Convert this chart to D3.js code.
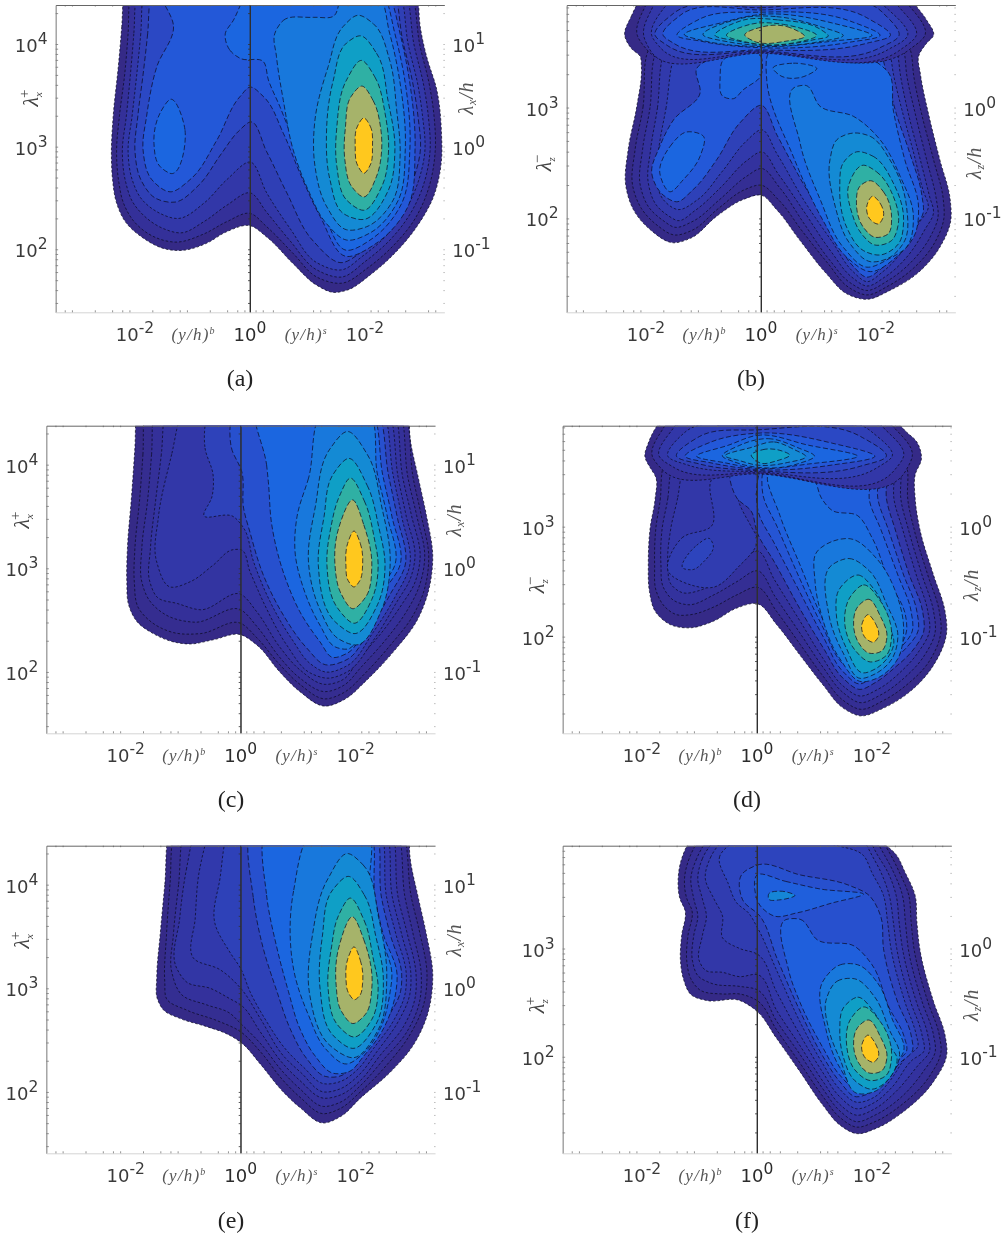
<!DOCTYPE html>
<html><head><meta charset="utf-8">
<script src="https://cdn.jsdelivr.net/npm/d3@7"></script>
<style>html,body{margin:0;background:#fff}svg{display:block;filter:blur(.35px)}</style></head>
<body><svg id="c" width="1008" height="1237"></svg>
<script>
// contour levels and their fill colours
const levelValues=[1,2,3,4,5,6,7,8,9,10,11,12,13];
const levelColors=["#352a87","#343099","#3237a8","#2f3fb5","#2b48c4","#2358d8","#1b66e0","#1878dc","#148ad4","#0f9fc6","#2fb0a4","#a6b36a","#ffc81e"];
// tick labels
const xMajor=[-2,0,2], yDecadesX=[2,3,4], yDecadesZ=[2,3];
// contour outlines: [level, [[signed decades of y/h, log10 lambda+],...]]
const panelA=[
[1,[[-2.19,4.49],[-2.23,4.17],[-2.29,3.78],[-2.38,3.29],[-2.41,2.9],[-2.39,2.68],[-2.32,2.45],[-2.17,2.27],[-1.86,2.11],[-1.45,2],[-1.16,1.99],[-.75,2.06],[-.41,2.17],[0,2.23],[.29,2.12],[.75,1.86],[1.16,1.65],[1.45,1.58],[1.68,1.6],[2.09,1.75],[2.55,1.98],[2.9,2.22],[3.19,2.51],[3.33,2.87],[3.33,3.13],[3.25,3.55],[3.07,3.88],[2.96,4.17],[2.91,4.49]]],
[2,[[-2.08,4.49],[-2.12,4.1],[-2.18,3.7],[-2.27,3.3],[-2.32,2.95],[-2.28,2.65],[-2.2,2.45],[-2.03,2.28],[-1.7,2.13],[-1.3,2.07],[-.8,2.15],[-.4,2.27],[0,2.35],[.29,2.22],[.75,1.96],[1.16,1.73],[1.6,1.67],[2.05,1.82],[2.5,2.04],[2.85,2.28],[3.08,2.55],[3.22,2.95],[3.2,3.3],[3.12,3.6],[2.95,4],[2.82,4.49]]],
[3,[[-1.97,4.49],[-2.02,4.1],[-2.08,3.7],[-2.15,3.3],[-2.22,2.95],[-2.16,2.65],[-2.05,2.47],[-1.85,2.33],[-1.5,2.2],[-1.2,2.16],[-.8,2.27],[-.4,2.43],[0,2.55],[.29,2.36],[.7,2.08],[1.16,1.8],[1.6,1.73],[2,1.88],[2.45,2.1],[2.78,2.34],[3,2.6],[3.13,2.95],[3.1,3.3],[3.02,3.6],[2.85,4],[2.72,4.49]]],
[4,[[-1.85,4.49],[-1.9,4.1],[-1.97,3.7],[-2.05,3.3],[-2.12,2.95],[-2.05,2.68],[-1.9,2.5],[-1.6,2.36],[-1.25,2.3],[-.8,2.45],[-.4,2.68],[0,2.85],[.29,2.55],[.7,2.2],[1.16,1.87],[1.6,1.8],[1.95,1.93],[2.4,2.15],[2.7,2.38],[2.92,2.65],[3.04,2.95],[3,3.3],[2.92,3.6],[2.75,4],[2.62,4.49]]],
[5,[[-1.72,4.49],[-1.78,4.1],[-1.86,3.7],[-1.95,3.3],[-2,2.95],[-1.9,2.68],[-1.65,2.5],[-1.3,2.46],[-.9,2.62],[-.5,2.93],[-.2,3.15],[0,3.24],[.29,2.95],[.64,2.55],[1.1,2.08],[1.6,1.87],[1.95,1.98],[2.35,2.22],[2.62,2.45],[2.85,2.7],[2.96,2.95],[2.92,3.3],[2.82,3.65],[2.65,4.05],[2.52,4.49]]],
[6,[[-1.57,4.49],[-1.33,4.17],[-1.62,3.78],[-1.8,3.29],[-1.86,2.97],[-1.71,2.68],[-1.39,2.56],[-1.04,2.68],[-.58,3.06],[-.17,3.49],[0,3.58],[.23,3.49],[.58,3.13],[.87,2.74],[1.22,2.32],[1.68,1.93],[2.2,2.06],[2.75,2.42],[2.87,2.97],[2.78,3.62],[2.61,4.1],[2.42,4.49]]],
[7,[[-1.39,3.46],[-1.13,3.16],[-1.39,2.74],[-1.57,2.81],[-1.67,3.03],[-1.57,3.32]]],
[7,[[-.43,4.1],[-.35,3.94],[-.17,3.86],[.23,3.83],[.32,3.65],[.52,3.39],[.75,3.06],[.99,2.71],[1.28,2.35],[1.68,1.99],[2.14,2.11],[2.64,2.45],[2.78,2.97],[2.7,3.62],[2.52,4.1],[2.32,4.49],[-.06,4.49],[-.29,4.23]]],
[8,[[.43,4.1],[.58,4.23],[1.1,4.26],[1.45,4.27],[1.62,4.49],[2.2,4.49],[2.43,4.1],[2.61,3.62],[2.7,2.97],[2.58,2.48],[2.09,2.16],[1.68,2.09],[1.33,2.25],[1.01,2.58],[.75,2.97],[.58,3.45],[.46,3.88]]],
[9,[[1.88,4.28],[2.14,4.2],[2.43,3.84],[2.55,3.36],[2.61,2.9],[2.49,2.48],[2.03,2.22],[1.68,2.19],[1.33,2.42],[1.13,2.81],[1.13,3.26],[1.36,3.78],[1.62,4.17]]],
[10,[[1.91,4.08],[2.2,3.91],[2.4,3.45],[2.52,2.97],[2.41,2.58],[1.97,2.29],[1.62,2.35],[1.39,2.68],[1.33,3.13],[1.45,3.65],[1.68,4.01]]],
[11,[[1.94,3.84],[2.17,3.68],[2.35,3.32],[2.41,2.97],[2.29,2.61],[1.97,2.38],[1.68,2.48],[1.51,2.81],[1.51,3.19],[1.68,3.65]]],
[12,[[1.94,3.59],[2.14,3.45],[2.27,3.19],[2.29,2.97],[2.2,2.71],[1.97,2.51],[1.77,2.61],[1.65,2.87],[1.66,3.19],[1.76,3.49]]],
[13,[[1.98,3.28],[2.09,3.2],[2.13,3],[2.09,2.82],[1.98,2.74],[1.87,2.82],[1.83,3],[1.87,3.2]]]];
const panelB=[
[1,[[-2.08,4],[-2.25,3.83],[-2.37,3.65],[-2.25,3.53],[-2.1,3.46],[-2.08,3.37],[-2.16,3.01],[-2.31,2.62],[-2.35,2.29],[-2.22,2.08],[-1.93,1.9],[-1.52,1.78],[-1.23,1.82],[-.77,2.02],[-.31,2.17],[0,2.21],[.27,2.08],[.68,1.8],[1.14,1.5],[1.49,1.32],[1.84,1.27],[2.24,1.35],[2.71,1.5],[3.11,1.74],[3.3,1.98],[3.29,2.17],[3.11,2.53],[2.91,2.95],[2.77,3.31],[2.74,3.46],[2.88,3.58],[3,3.65],[2.88,3.79],[2.71,3.91],[2.59,4]]],
[1.7,[[-1.99,3.47],[-2.05,3.01],[-2.19,2.62],[-2.23,2.29],[-2.08,2.09],[-1.81,1.94],[-1.5,1.85],[-1.21,1.89],[-.74,2.09],[-.28,2.26],[0,2.3],[.3,2.17],[.71,1.89],[1.17,1.59],[1.52,1.38],[1.84,1.31],[2.21,1.39],[2.65,1.55],[3.03,1.79],[3.18,2],[3.17,2.17],[3,2.53],[2.79,2.95],[2.65,3.31],[2.62,3.47]]],
[2.3,[[-1.85,3.47],[-1.93,3],[-2.06,2.62],[-2.1,2.3],[-1.95,2.1],[-1.7,1.98],[-1.5,1.92],[-1.2,1.97],[-.72,2.17],[-.25,2.38],[0,2.45],[.32,2.28],[.74,1.96],[1.2,1.62],[1.55,1.42],[1.84,1.35],[2.18,1.43],[2.6,1.6],[2.95,1.84],[3.08,2.02],[3.05,2.17],[2.88,2.53],[2.68,2.95],[2.53,3.31],[2.5,3.47]]],
[3.2,[[-1.7,3.47],[-1.8,3],[-1.92,2.62],[-1.96,2.32],[-1.82,2.12],[-1.6,2.02],[-1.45,1.98],[-1.15,2.07],[-.7,2.28],[-.25,2.52],[0,2.6],[.3,2.4],[.75,2.06],[1.22,1.7],[1.58,1.47],[1.84,1.39],[2.15,1.47],[2.55,1.66],[2.85,1.9],[3,2.05],[2.93,2.2],[2.76,2.55],[2.56,2.95],[2.42,3.31],[2.38,3.47]]],
[4.2,[[-1.5,3.47],[-1.65,3],[-1.78,2.62],[-1.82,2.35],[-1.7,2.17],[-1.45,2.08],[-1.1,2.17],[-.68,2.42],[-.25,2.7],[0,2.8],[.28,2.58],[.75,2.16],[1.25,1.78],[1.6,1.52],[1.84,1.43],[2.12,1.52],[2.48,1.72],[2.75,1.96],[2.91,2.1],[2.82,2.25],[2.65,2.6],[2.45,2.98],[2.3,3.31],[2.25,3.47]]],
[6,[[-1.12,3.35],[-.7,3.47],[2.1,3.47],[2.2,3.25],[2.35,2.95],[2.58,2.6],[2.8,2.2],[2.82,2.05],[2.65,1.9],[2.42,1.72],[2.1,1.55],[1.84,1.47],[1.6,1.57],[1.25,1.88],[.75,2.3],[.28,2.75],[0,3.02],[-.37,2.86],[-.77,2.53],[-1.18,2.26],[-1.47,2.15],[-1.7,2.21],[-1.9,2.41],[-1.76,2.65],[-1.52,2.89],[-1.06,3.13]]],
[7,[[-1.76,2.41],[-1.58,2.65],[-1.29,2.78],[-1,2.74],[-1.06,2.56],[-1.35,2.35],[-1.58,2.24]]],
[7,[[-.68,3.41],[0,3.46],[0,3.29],[-.31,3.16],[-.48,3.08],[-.66,3.1],[-.71,3.28]]],
[7,[[.1,3.45],[2.01,3.41],[2.21,3.32],[2.3,2.98],[2.5,2.53],[2.74,2.1],[2.68,1.86],[2.35,1.65],[1.9,1.52],[1.49,1.65],[1.08,1.98],[.56,2.56],[.1,3.25]]],
[7.6,[[.21,3.35],[.56,3.4],[.97,3.35],[.68,3.27],[.33,3.29]]],
[8,[[.62,3.19],[.77,3.2],[1.03,3.01],[1.61,2.92],[2.07,2.71],[2.42,2.38],[2.65,2.02],[2.53,1.74],[2.24,1.64],[1.84,1.56],[1.43,1.74],[1.03,2.17],[.68,2.68]]],
[9,[[1.61,2.77],[1.9,2.74],[2.24,2.53],[2.53,2.11],[2.5,1.8],[2.21,1.64],[1.9,1.61],[1.55,1.77],[1.29,2.11],[1.2,2.53],[1.32,2.71]]],
[10,[[1.66,2.6],[1.95,2.56],[2.3,2.32],[2.48,1.98],[2.39,1.77],[2.07,1.67],[1.78,1.71],[1.49,1.92],[1.37,2.29],[1.43,2.5]]],
[11,[[1.78,2.48],[2.01,2.42],[2.3,2.2],[2.39,1.96],[2.27,1.8],[1.98,1.76],[1.75,1.86],[1.58,2.05],[1.52,2.29]]],
[12,[[1.9,2.34],[2.13,2.24],[2.27,2.02],[2.21,1.86],[1.98,1.83],[1.78,1.92],[1.66,2.14],[1.72,2.29]]],
[13,[[1.94,2.2],[2.08,2.13],[2.13,2.02],[2.04,1.95],[1.9,1.99],[1.84,2.11]]],
[2,[[-1.98,3.95],[2.53,3.95],[2.85,3.65],[2.6,3.53],[0,3.5],[-1.98,3.52],[-2.15,3.65]]],
[3,[[-1.87,3.92],[2.38,3.92],[2.7,3.65],[2.42,3.52],[0,3.49],[-1.93,3.52],[-2.04,3.65]]],
[4,[[-1.7,3.89],[0,3.93],[2.2,3.89],[2.55,3.65],[2.2,3.52],[0,3.5],[-1.75,3.54],[-1.9,3.65]]],
[5,[[-1.52,3.85],[0,3.9],[2.13,3.85],[2.4,3.65],[2.07,3.54],[0,3.51],[-1.63,3.56],[-1.84,3.65]]],
[6,[[-1.41,3.83],[0,3.88],[1.84,3.81],[2.25,3.65],[1.84,3.58],[0,3.52],[-1.52,3.58],[-1.7,3.65]]],
[7,[[-1.06,3.8],[0,3.86],[1.55,3.78],[2.07,3.65],[1.55,3.59],[0,3.54],[-1.06,3.6],[-1.46,3.65]]],
[8,[[-.65,3.77],[0,3.84],[1.26,3.76],[1.93,3.65],[1.26,3.6],[0,3.55],[-1.06,3.61],[-1.32,3.65]]],
[9,[[-.19,3.82],[.27,3.82],[1.03,3.73],[1.43,3.65],[.97,3.59],[0,3.56],[-.54,3.59],[-1,3.65]]],
[10,[[-.3,3.79],[.3,3.79],[1.05,3.7],[1.17,3.65],[.9,3.61],[0,3.57],[-.4,3.6],[-.8,3.65]]],
[11,[[-.19,3.75],[.39,3.75],[.97,3.65],[.39,3.57],[-.25,3.59],[-.6,3.65]]],
[12,[[.04,3.73],[.45,3.73],[.76,3.64],[.45,3.6],[-.13,3.6],[-.28,3.65]]]];
const panelC=[
[1,[[-1.8,4.54],[-1.84,4.16],[-1.9,3.68],[-1.97,3.19],[-1.98,2.87],[-1.95,2.65],[-1.81,2.49],[-1.52,2.37],[-1.17,2.29],[-.88,2.27],[-.48,2.31],[0,2.36],[.28,2.26],[.68,2],[1.03,1.81],[1.47,1.67],[1.79,1.73],[2.19,1.92],[2.71,2.23],[3.06,2.49],[3.26,2.77],[3.34,3.1],[3.23,3.51],[3.09,3.87],[2.94,4.29],[2.93,4.54]]],
[1.5,[[-1.66,4.54],[-1.7,4.1],[-1.76,3.65],[-1.84,3.19],[-1.85,2.87],[-1.78,2.62],[-1.55,2.48],[-1.17,2.38],[-.7,2.37],[0,2.47],[.28,2.33],[.68,2.07],[1.03,1.88],[1.47,1.74],[1.79,1.8],[2.15,1.98],[2.62,2.27],[2.97,2.52],[3.18,2.77],[3.27,3.1],[3.14,3.51],[3,3.87],[2.85,4.54]]],
[2,[[-1.5,4.54],[-1.55,4.1],[-1.62,3.65],[-1.72,3.19],[-1.72,2.87],[-1.6,2.7],[-1.3,2.55],[-.8,2.48],[0,2.6],[.28,2.44],[.68,2.14],[1.03,1.94],[1.47,1.81],[1.79,1.87],[2.1,2.05],[2.55,2.33],[2.88,2.58],[3.1,2.82],[3.2,3.1],[3.06,3.51],[2.91,3.87],[2.76,4.54]]],
[2.5,[[-1.3,4.54],[-1.38,4.1],[-1.48,3.65],[-1.57,3.19],[-1.58,2.87],[-1.45,2.72],[-1.1,2.66],[-.7,2.6],[0,2.75],[.28,2.58],[.68,2.24],[1.03,2.02],[1.47,1.88],[1.79,1.93],[2.05,2.12],[2.48,2.4],[2.8,2.65],[3.02,2.85],[3.12,3.1],[2.97,3.51],[2.82,3.87],[2.66,4.54]]],
[3,[[-1,4.54],[-1.2,4.1],[-1.43,3.5],[-1.46,3.06],[-1.23,2.82],[-.88,2.87],[-.48,3.03],[-.13,3.18],[0,3.18],[.16,2.97],[.45,2.61],[.8,2.26],[1.21,1.99],[1.52,1.94],[1.85,2],[2.3,2.3],[2.72,2.68],[2.95,2.9],[3.03,3.1],[2.88,3.5],[2.74,3.87],[2.56,4.54]]],
[4.3,[[-.56,4.54],[-.62,4.16],[-.48,3.9],[-.5,3.69],[-.64,3.51],[-.13,3.5],[.05,3.39],[.22,3.07],[.51,2.68],[.91,2.3],[1.21,2.08],[1.47,2],[1.85,2.06],[2.3,2.38],[2.68,2.72],[2.94,3.03],[2.8,3.5],[2.65,3.9],[2.46,4.54]]],
[5.5,[[-.13,4.54],[-.16,4.16],[.02,3.93],[.05,3.58],[.16,3.35],[.39,2.94],[.74,2.55],[1.15,2.23],[1.47,2.07],[1.85,2.12],[2.25,2.42],[2.6,2.75],[2.86,3.03],[2.72,3.5],[2.57,3.9],[2.36,4.54]]],
[7,[[.25,4.54],[.45,4],[.48,3.84],[.54,3.42],[.8,2.87],[1.03,2.58],[1.38,2.29],[1.6,2.14],[1.85,2.18],[2.2,2.46],[2.52,2.8],[2.77,3.03],[2.63,3.5],[2.47,3.9],[2.26,4.54]]],
[8,[[1.5,4.54],[1.18,3.87],[.98,3.5],[.95,3.13],[1.09,2.81],[1.38,2.45],[1.65,2.24],[1.85,2.22],[2.15,2.5],[2.45,2.82],[2.68,3.03],[2.55,3.5],[2.38,3.9],[2.16,4.54]]],
[9,[[1.85,4.32],[2.2,4.1],[2.45,3.6],[2.6,3.05],[2.45,2.6],[2,2.26],[1.7,2.32],[1.38,2.6],[1.18,3.05],[1.3,3.6],[1.55,4.15]]],
[10,[[1.87,4.06],[2.2,3.8],[2.4,3.4],[2.51,3.03],[2.38,2.65],[1.97,2.37],[1.65,2.48],[1.35,3.03],[1.45,3.5],[1.6,3.9]]],
[11,[[1.9,3.87],[2.15,3.65],[2.32,3.3],[2.39,3.03],[2.28,2.7],[1.97,2.47],[1.68,2.62],[1.5,3.03],[1.57,3.4],[1.72,3.7]]],
[12,[[1.95,3.66],[2.14,3.42],[2.28,3.03],[2.17,2.72],[1.95,2.61],[1.75,2.75],[1.64,3.03],[1.7,3.38]]],
[13,[[1.97,3.36],[2.08,3.24],[2.12,3.03],[2.07,2.88],[1.97,2.82],[1.87,2.88],[1.83,3.03],[1.86,3.24]]]];
const panelD=[
[1,[[-1.6,4],[-1.69,3.95],[-1.89,3.76],[-1.95,3.64],[-1.85,3.53],[-1.76,3.45],[-1.77,3.26],[-1.86,2.98],[-1.89,2.65],[-1.87,2.41],[-1.77,2.23],[-1.51,2.11],[-1.17,2.08],[-.76,2.14],[-.35,2.26],[0,2.3],[.34,2.11],[.75,1.83],[1.15,1.56],[1.5,1.35],[1.79,1.28],[2.2,1.35],[2.66,1.5],[3.07,1.74],[3.3,2.05],[3.27,2.23],[3.07,2.56],[2.83,2.98],[2.75,3.26],[2.75,3.47],[2.86,3.62],[2.78,3.77],[2.6,3.86],[2.43,3.95],[2.3,4]]],
[1.7,[[-1.65,3.5],[-1.68,3.26],[-1.76,2.98],[-1.78,2.65],[-1.75,2.41],[-1.6,2.27],[-1.4,2.2],[-1.15,2.2],[-.75,2.27],[-.35,2.38],[0,2.45],[.34,2.23],[.75,1.93],[1.15,1.64],[1.5,1.42],[1.79,1.34],[2.2,1.42],[2.6,1.56],[3,1.78],[3.2,2.05],[3.17,2.23],[2.97,2.56],[2.73,2.98],[2.62,3.26],[2.62,3.5]]],
[2.3,[[-1.5,3.5],[-1.55,3.26],[-1.65,2.98],[-1.67,2.65],[-1.63,2.45],[-1.45,2.33],[-1.2,2.29],[-.75,2.38],[-.35,2.5],[0,2.6],[.32,2.36],[.75,2.03],[1.15,1.72],[1.5,1.49],[1.79,1.4],[2.15,1.47],[2.55,1.62],[2.9,1.82],[3.1,2.05],[3.07,2.23],[2.87,2.56],[2.63,2.98],[2.5,3.26],[2.5,3.5]]],
[3,[[-1.3,3.5],[-1.38,3.26],[-1.5,2.98],[-1.55,2.65],[-1.5,2.48],[-1.3,2.4],[-1,2.42],[-.7,2.5],[-.35,2.66],[0,2.78],[.3,2.52],[.75,2.14],[1.15,1.8],[1.5,1.55],[1.79,1.46],[2.1,1.52],[2.5,1.68],[2.82,1.87],[3,2.05],[2.97,2.23],[2.77,2.56],[2.53,2.98],[2.38,3.26],[2.38,3.5]]],
[3.6,[[-1.54,2.59],[-1.3,2.9],[-.8,3],[-.75,3.45],[-.45,3.5],[-.3,3.2],[-.1,3],[0,2.9],[-.35,2.62],[-.75,2.45],[-1.15,2.47]]],
[4.5,[[-1.28,2.62],[-1.05,2.83],[-.82,2.89],[-.76,2.83],[-.93,2.68],[-1.11,2.61]]],
[5,[[-.45,3.5],[0,3.5],[2.25,3.5],[2.25,3.26],[2.4,2.98],[2.65,2.56],[2.88,2.23],[2.9,2.05],[2.7,1.87],[2.4,1.72],[2.05,1.58],[1.79,1.52],[1.5,1.62],[1.15,1.9],[.75,2.25],[.3,2.68],[0,2.95],[-.1,3.14],[-.35,3.26]]],
[5.8,[[.05,3.5],[2.1,3.5],[2.1,3.26],[2.28,2.98],[2.55,2.56],[2.78,2.23],[2.8,2.05],[2.6,1.9],[2.3,1.76],[2,1.63],[1.79,1.57],[1.5,1.68],[1.15,2],[.75,2.4],[.3,2.85],[.02,3.14]]],
[6.5,[[.1,3.5],[2,3.5],[1.95,3.26],[2.15,2.98],[2.45,2.56],[2.68,2.23],[2.7,2.05],[2.5,1.9],[2.2,1.76],[1.9,1.63],[1.5,1.75],[1.15,2.08],[.75,2.52],[.35,3],[.1,3.3]]],
[7.3,[[.2,3.48],[1,3.42],[1.12,3.26],[1.3,3.15],[1.75,3.1],[2,2.9],[2.3,2.5],[2.58,2.2],[2.6,2.05],[2.4,1.85],[2.05,1.7],[1.8,1.65],[1.5,1.8],[1.15,2.15],[.75,2.65],[.4,3.1]]],
[8,[[1.04,2.77],[1.33,2.87],[1.62,2.89],[2.08,2.71],[2.43,2.38],[2.55,2.05],[2.45,1.8],[2.08,1.62],[1.82,1.59],[1.44,1.8],[1.12,2.2],[1.01,2.5]]],
[9,[[1.3,2.65],[1.6,2.71],[1.95,2.6],[2.25,2.3],[2.45,2],[2.35,1.8],[2.05,1.66],[1.8,1.62],[1.5,1.85],[1.25,2.2]]],
[10,[[1.42,2.42],[1.76,2.56],[2.05,2.42],[2.3,2.1],[2.38,1.95],[2.1,1.72],[1.85,1.67],[1.55,1.9],[1.38,2.2]]],
[11,[[1.62,2.36],[1.85,2.47],[2.15,2.32],[2.34,2],[2.25,1.83],[1.97,1.77],[1.7,1.88],[1.53,2.1]]],
[12,[[1.75,2.27],[1.93,2.34],[2.15,2.18],[2.26,2],[2.17,1.87],[1.95,1.85],[1.76,1.95],[1.68,2.1]]],
[13,[[1.93,2.2],[2.06,2.12],[2.11,2],[2.03,1.95],[1.9,1.98],[1.82,2.1]]],
[2,[[-1.6,3.92],[2.35,3.92],[2.7,3.64],[2.6,3.52],[0,3.48],[-1.65,3.52],[-1.82,3.64]]],
[3,[[-1.45,3.9],[2.2,3.9],[2.55,3.64],[2.4,3.52],[0,3.49],[-1.45,3.54],[-1.7,3.64]]],
[4,[[-1.25,3.86],[0,3.92],[2,3.86],[2.35,3.64],[2.1,3.54],[0,3.5],[-1.2,3.56],[-1.55,3.64]]],
[5,[[-1,3.82],[0,3.88],[1.8,3.82],[2.25,3.64],[1.8,3.55],[0,3.51],[-1,3.57],[-1.4,3.64]]],
[6,[[-.8,3.77],[0,3.85],[1.3,3.76],[2.05,3.64],[1.3,3.56],[0,3.52],[-.8,3.58],[-1.25,3.64]]],
[7,[[-.5,3.74],[0,3.83],[.9,3.74],[1.75,3.64],[.9,3.57],[0,3.53],[-.55,3.58],[-1.05,3.64]]],
[8,[[-.3,3.74],[.2,3.8],[.7,3.72],[1,3.64],[.7,3.57],[0,3.54],[-.4,3.59],[-.6,3.64]]],
[9,[[-.1,3.72],[.3,3.77],[.65,3.7],[.85,3.64],[.5,3.58],[0,3.56],[-.3,3.6],[-.55,3.64]]],
[10,[[-.1,3.65],[.1,3.7],[.35,3.7],[.57,3.65],[.35,3.6],[.05,3.58]]]];
const panelE=[
[1,[[-1.23,4.55],[-1.32,4],[-1.4,3.52],[-1.46,3.1],[-1.45,2.9],[-1.34,2.79],[-1.06,2.71],[-.59,2.63],[-.24,2.56],[0,2.48],[.34,2.27],[.74,2],[1.03,1.85],[1.44,1.7],[1.73,1.76],[2.08,1.94],[2.6,2.19],[3,2.45],[3.26,2.77],[3.34,3.13],[3.23,3.52],[3.09,3.87],[2.94,4.29],[2.93,4.55]]],
[1.6,[[-1.14,4.55],[-1.23,4],[-1.29,3.52],[-1.32,3.06],[-1.29,2.9],[-.94,2.79],[-.42,2.69],[0,2.58],[.34,2.39],[.74,2.11],[1.03,1.95],[1.44,1.79],[1.73,1.84],[2.08,2],[2.54,2.26],[2.94,2.55],[3.18,2.84],[3.24,3.13],[3.12,3.52],[2.97,3.87],[2.8,4.55]]],
[2.2,[[-.97,4.55],[-1.08,4],[-1.17,3.52],[-1.2,3.16],[-1.03,2.94],[-.59,2.84],[-.19,2.76],[0,2.66],[.34,2.47],[.74,2.19],[1.03,2.03],[1.44,1.86],[1.73,1.9],[2.08,2.06],[2.48,2.31],[2.89,2.58],[3.11,2.87],[3.14,3.13],[3,3.52],[2.86,3.87],[2.71,4.55]]],
[2.8,[[-.77,4.55],[-.94,4.16],[-1.06,3.68],[-1.11,3.19],[-.94,3.06],[-.53,3],[-.19,2.9],[0,2.84],[.34,2.58],[.74,2.27],[1.03,2.11],[1.44,1.94],[1.73,1.97],[2.08,2.11],[2.42,2.35],[2.83,2.63],[3.03,2.9],[3.05,3.13],[2.9,3.52],[2.74,3.87],[2.61,4.55]]],
[3.3,[[-.5,4.55],[-.71,4.16],[-.79,3.68],[-.82,3.29],[-.36,3.18],[0,3],[.34,2.71],[.74,2.35],[1.06,2.18],[1.44,2],[1.73,2.03],[2.05,2.16],[2.37,2.39],[2.74,2.68],[2.94,2.94],[2.96,3.13],[2.8,3.52],[2.64,3.87],[2.51,4.55]]],
[4.2,[[-.19,4.55],[-.36,4.06],[-.45,3.63],[-.19,3.35],[0,3.19],[.16,2.97],[.45,2.68],[.77,2.42],[1.09,2.24],[1.44,2.08],[1.73,2.1],[2.02,2.21],[2.31,2.42],[2.66,2.69],[2.86,2.95],[2.88,3.13],[2.7,3.52],[2.54,3.87],[2.41,4.55]]],
[5.5,[[.19,4.55],[.22,3.87],[.39,3.39],[.63,2.97],[.86,2.61],[1.15,2.32],[1.47,2.15],[1.76,2.16],[1.96,2.26],[2.22,2.45],[2.57,2.73],[2.78,2.97],[2.8,3.13],[2.6,3.52],[2.45,3.87],[2.32,4.55]]],
[7,[[.45,4.55],[.45,3.9],[.63,3.39],[.83,2.97],[1.03,2.61],[1.29,2.35],[1.61,2.18],[1.9,2.2],[2.13,2.34],[2.42,2.55],[2.7,2.97],[2.72,3.13],[2.48,3.52],[2.34,3.87],[2.22,4.55]]],
[8,[[1.32,4.55],[.92,3.94],[.86,3.52],[.94,3.13],[1.18,2.74],[1.47,2.42],[1.84,2.27],[2.13,2.37],[2.4,2.58],[2.6,2.97],[2.63,3.13],[2.42,3.52],[2.25,3.87],[2.16,4.55]]],
[9,[[1.87,4.3],[2.13,4.19],[2.4,3.68],[2.54,3.1],[2.4,2.61],[1.95,2.33],[1.55,2.45],[1.2,2.94],[1.25,3.52],[1.52,4.06]]],
[10,[[1.87,4.08],[2.15,3.9],[2.35,3.5],[2.48,3.1],[2.35,2.65],[1.95,2.42],[1.6,2.55],[1.38,3],[1.42,3.5],[1.6,3.95]]],
[11,[[1.9,3.87],[2.15,3.65],[2.3,3.3],[2.39,3],[2.28,2.7],[1.97,2.53],[1.68,2.65],[1.52,3],[1.58,3.4],[1.7,3.7]]],
[12,[[1.95,3.69],[2.14,3.47],[2.28,3],[2.17,2.75],[1.95,2.66],[1.75,2.78],[1.66,3.03],[1.7,3.38]]],
[13,[[1.97,3.4],[2.08,3.27],[2.12,3.05],[2.07,2.93],[1.98,2.89],[1.88,2.95],[1.83,3.1],[1.86,3.28]]]];
const panelF=[
[1,[[-1,4.05],[-1.14,4],[-1.31,3.83],[-1.37,3.65],[-1.34,3.46],[-1.25,3.35],[-1.31,3.12],[-1.33,2.88],[-1.28,2.72],[-1.14,2.57],[-.88,2.52],[-.3,2.52],[0,2.42],[.34,2.17],[.75,1.86],[1.15,1.55],[1.44,1.37],[1.73,1.29],[2.08,1.34],[2.54,1.49],[3.07,1.77],[3.3,2.02],[3.27,2.2],[3.07,2.51],[2.83,3],[2.78,3.25],[2.75,3.49],[2.57,3.71],[2.43,3.86],[2.2,3.98],[2.1,4.05]]],
[1.7,[[-.95,4.05],[-1.18,3.83],[-1.26,3.65],[-1.22,3.46],[-1.13,3.35],[-1.2,3.12],[-1.22,2.88],[-1.15,2.72],[-1,2.62],[-.6,2.58],[-.3,2.58],[0,2.52],[.34,2.25],[.75,1.94],[1.15,1.63],[1.44,1.44],[1.73,1.35],[2.05,1.4],[2.5,1.55],[3,1.82],[3.2,2.05],[3.17,2.2],[2.97,2.51],[2.73,3],[2.68,3.25],[2.64,3.49],[2.47,3.71],[2.33,3.86],[2.1,4.05]]],
[2.3,[[-.8,4.05],[-1.05,3.83],[-1.15,3.65],[-1.1,3.46],[-1.03,3.3],[-1.1,3.12],[-1.12,2.88],[-1.03,2.75],[-.8,2.68],[-.3,2.65],[0,2.62],[.34,2.33],[.75,2.02],[1.15,1.7],[1.44,1.5],[1.73,1.4],[2.05,1.46],[2.45,1.6],[2.9,1.87],[3.1,2.05],[3.07,2.2],[2.87,2.51],[2.63,3],[2.58,3.25],[2.53,3.49],[2.37,3.71],[2.22,3.86],[2,4.05]]],
[3,[[-.65,4.05],[-.95,3.83],[-1.03,3.65],[-.95,3.46],[-.88,3.3],[-.95,3.12],[-1,2.88],[-.9,2.8],[-.6,2.78],[-.3,2.74],[0,2.76],[.34,2.43],[.75,2.1],[1.15,1.77],[1.44,1.56],[1.73,1.46],[2.05,1.52],[2.4,1.67],[2.8,1.92],[3,2.05],[2.97,2.2],[2.77,2.51],[2.53,3],[2.47,3.25],[2.42,3.49],[2.27,3.71],[2.1,3.86],[1.9,4.05]]],
[3.6,[[-.5,4.05],[-.8,3.85],[-.9,3.65],[-.75,3.46],[-.6,3.3],[-.6,3.1],[-.3,3],[0,2.95],[.34,2.6],[.75,2.2],[1.15,1.85],[1.44,1.63],[1.73,1.52],[2.05,1.58],[2.35,1.72],[2.7,1.97],[2.9,2.05],[2.87,2.2],[2.67,2.51],[2.43,3],[2.37,3.25],[2.3,3.49],[2.15,3.71],[2,3.86],[1.8,4.05]]],
[4.5,[[-.35,4],[-.65,3.85],[-.5,3.6],[-.35,3.42],[-.15,3.33],[0,3.2],[.34,2.8],[.75,2.32],[1.15,1.93],[1.44,1.7],[1.73,1.58],[2.05,1.63],[2.3,1.77],[2.6,2],[2.8,2.1],[2.77,2.2],[2.57,2.51],[2.33,3],[2.27,3.25],[2.2,3.49],[2,3.7],[1.85,3.86],[1.4,3.95],[.5,4]]],
[5.5,[[-.27,3.68],[0,3.77],[.75,3.68],[1.62,3.58],[1.95,3.49],[2.15,3.3],[2.2,3],[2.45,2.5],[2.68,2.2],[2.7,2.05],[2.5,1.95],[2.2,1.77],[1.9,1.65],[1.73,1.63],[1.44,1.77],[1.15,2],[.75,2.42],[.34,2.92],[.05,3.3],[-.25,3.45]]],
[6.5,[[0,3.68],[.5,3.62],[1.1,3.55],[1.85,3.5],[1.3,3.42],[.7,3.33],[.3,3.3],[.05,3.4]]],
[6.5,[[.52,3.27],[.75,3.27],[1.05,3.08],[1.7,3.02],[2,2.85],[2.3,2.45],[2.55,2.2],[2.6,2.05],[2.4,1.95],[2.1,1.8],[1.8,1.68],[1.44,1.83],[1.15,2.08],[.75,2.5],[.55,2.8]]],
[8,[[1.15,2.7],[1.45,2.85],[1.75,2.85],[2.1,2.68],[2.35,2.35],[2.55,2.05],[2.35,1.9],[2.05,1.73],[1.75,1.7],[1.44,1.9],[1.2,2.25]]],
[9,[[1.2,2.52],[1.4,2.7],[1.7,2.72],[2.05,2.55],[2.3,2.25],[2.48,2.02],[2.3,1.8],[2.05,1.68],[1.75,1.66],[1.45,1.97],[1.25,2.25]]],
[8.8,[[.2,3.5],[.4,3.53],[.66,3.49],[.4,3.45],[.2,3.46]]],
[10,[[1.5,2.45],[1.75,2.55],[2.05,2.4],[2.3,2.1],[2.43,2],[2.3,1.8],[2,1.7],[1.7,1.78],[1.5,2],[1.44,2.25]]],
[11,[[1.62,2.34],[1.85,2.46],[2.15,2.32],[2.34,2],[2.25,1.83],[1.97,1.78],[1.7,1.88],[1.56,2.1]]],
[12,[[1.75,2.27],[1.93,2.34],[2.15,2.18],[2.26,2],[2.17,1.87],[1.95,1.85],[1.76,1.95],[1.68,2.1]]],
[13,[[1.93,2.2],[2.06,2.12],[2.11,2],[2.03,1.95],[1.9,1.98],[1.82,2.1]]]];

const HALF=194.35, UMAX=3.38;
const layout=[
 {id:"a",data:panelA,cx:250,top:5,bottom:312.3,vt:4.38,vb:1.386,major:yDecadesX,sub:"x",sup:"+",cap:240,capY:386,lx:32,ly:98,rx:467,ry:98,rsub:"x"},
 {id:"b",data:panelB,cx:761,top:5,bottom:312.3,vt:3.925,vb:1.153,major:yDecadesZ,sub:"z",sup:"−",cap:751,capY:386,lx:545,ly:163,rx:975,ry:163,rsub:"z"},
 {id:"c",data:panelC,cx:240.7,top:425.7,bottom:733.3,vt:4.376,vb:1.408,major:yDecadesX,sub:"x",sup:"+",cap:231,capY:807,lx:23,ly:520,rx:455,ry:520,rsub:"x"},
 {id:"d",data:panelD,cx:757,top:425.7,bottom:733.3,vt:3.918,vb:1.121,major:yDecadesZ,sub:"z",sup:"−",cap:747,capY:807,lx:538,ly:585,rx:972,ry:585,rsub:"z"},
 {id:"e",data:panelE,cx:240.7,top:845.7,bottom:1153.3,vt:4.376,vb:1.408,major:yDecadesX,sub:"x",sup:"+",cap:231,capY:1228,lx:23,ly:940,rx:455,ry:940,rsub:"x"},
 {id:"f",data:panelF,cx:757,top:845.7,bottom:1153.3,vt:3.95,vb:1.108,major:yDecadesZ,sub:"z",sup:"+",cap:747,capY:1228,lx:538,ly:1005,rx:972,ry:1005,rsub:"z"}];

const color=d3.scaleLinear().domain(levelValues).range(levelColors).interpolate(d3.interpolateRgb).clamp(true);
const svg=d3.select("#c");
const SANS="'DejaVu Sans',sans-serif", SERIF="'Liberation Serif',serif";

function pow10Label(g,x,y,exp,anchor,bold){
  const t=g.append("text").attr("x",x).attr("y",y).attr("text-anchor",anchor).attr("fill",bold?"#2b2b2b":"#3a3a3a").attr("font-family",SANS).attr("font-size",18);
  t.append("tspan").text("10");
  t.append("tspan").attr("dy",-8).attr("font-size",15.5).text(exp);
}
layout.forEach(p=>{
  const left=p.cx-HALF,right=p.cx+HALF;
  const x=d3.scaleLinear().domain([-UMAX,UMAX]).range([left,right]);
  const y=d3.scaleLog().domain([10**p.vb,10**p.vt]).range([p.bottom,p.top]);
  const g=svg.append("g");
  const clip=`clip-${p.id}`;
  g.append("clipPath").attr("id",clip).append("rect").attr("x",left).attr("y",p.top).attr("width",right-left).attr("height",p.bottom-p.top);
  const line=d3.line().curve(d3.curveCatmullRomClosed.alpha(1)).x(d=>x(d[0])).y(d=>y(10**d[1]));
  const body=g.append("g").attr("clip-path",`url(#${clip})`);
  body.selectAll("path").data(p.data).join("path")
    .attr("d",d=>line(d[1])).attr("fill",d=>color(d[0]))
    .attr("stroke","#0b0b22").attr("stroke-width",.85).attr("stroke-opacity",.85)
    .attr("stroke-dasharray",d=>d[0]<5?"2.5 2":"5 2.5");
  // minor ticks
  const dec=d3.range(Math.ceil(p.vb)-1,Math.ceil(p.vt)+1);
  const minor=[];
  dec.forEach(k=>d3.range(1,10).forEach(m=>{const v=m*10**k; if(v>=10**p.vb&&v<=10**p.vt) minor.push(v);}));
  const style=(s,c)=>{s.selectAll("text").remove();s.selectAll(".domain").attr("stroke",c);s.selectAll("line").attr("stroke",c).attr("stroke-width",.8);};
  g.append("g").attr("transform",`translate(${left},0)`).call(d3.axisLeft(y).tickValues(minor).tickSize(-2.5).tickSizeOuter(0)).call(style,"#777");
  g.append("g").attr("transform",`translate(${p.cx},0)`).call(d3.axisLeft(y).tickValues(minor).tickSize(2).tickSizeOuter(0)).call(style,"#333");
  const rightAxis=g.append("g").attr("transform",`translate(${right-1},0)`).call(d3.axisRight(y).tickValues(minor).tickSize(1.5).tickSizeOuter(0)).call(style,"#aaa");
  rightAxis.select(".domain").remove();
  const xm=[];
  d3.range(0,4).forEach(k=>d3.range(2,10,2).forEach(m=>{const u=k+Math.log10(10/m); if(u<UMAX){xm.push(u);xm.push(-u);}}));
  const bot=g.append("g").attr("transform",`translate(0,${p.bottom})`).call(d3.axisBottom(x).tickValues(xm).tickSize(-2).tickSizeOuter(0)).call(style,"#777");
  bot.select(".domain").attr("stroke","#d4d4d4");
  const topA=g.append("g").attr("transform",`translate(0,${p.top})`).call(d3.axisTop(x).tickValues(xm).tickSize(-1.5).tickSizeOuter(0)).call(style,"#666");
  topA.select(".domain").attr("stroke","#666").attr("stroke-width",1);
  g.append("line").attr("x1",x(0)).attr("x2",x(0)).attr("y1",p.top).attr("y2",p.bottom).attr("stroke","#2a2a2a").attr("stroke-opacity",.8).attr("stroke-width",1);
  // tick labels
  p.major.forEach(k=>{
    pow10Label(g,left-8,y(10**k)+8,String(k),"end");
    pow10Label(g,right+8,y(10**k)+8,String(k-3),"start");
  });
  xMajor.forEach(u=>pow10Label(g,x(u),p.bottom+29,u===0?"0":"-2","middle",u===0));
  // axis titles
  [[-.98,"b"],[.98,"s"]].forEach(([u,s])=>{
    const t=g.append("text").attr("x",x(u)).attr("y",p.bottom+28).attr("text-anchor","middle").attr("fill","#555").attr("font-family",SERIF).attr("font-style","italic").attr("font-size",17).attr("letter-spacing",1.2);
    t.append("tspan").text("(y/h)");
    t.append("tspan").attr("dy",-6).attr("font-size",10).text(s);
  });
  const yl=g.append("text").attr("transform",`translate(${p.lx+6},${p.ly}) rotate(-90)`).attr("text-anchor","middle").attr("fill","#444").attr("font-family",SERIF).attr("font-size",22);
  yl.append("tspan").attr("font-style","italic").text("λ");
  yl.append("tspan").attr("dy",4).attr("font-size",11).attr("font-style","italic").text(p.sub);
  yl.append("tspan").attr("dy",-13).attr("dx",-6).attr("font-size",15).text(p.sup);
  const yr=g.append("text").attr("transform",`translate(${p.rx+6},${p.ry}) rotate(-90)`).attr("text-anchor","middle").attr("fill","#555").attr("font-family",SERIF).attr("font-style","italic").attr("font-size",20).attr("letter-spacing",.8);
  yr.append("tspan").text("λ");
  yr.append("tspan").attr("dy",3).attr("font-size",12).text(p.rsub);
  yr.append("tspan").attr("dy",-3).text("/h");
  g.append("text").attr("x",p.cap).attr("y",p.capY).attr("text-anchor","middle").attr("fill","#222").attr("font-family",SERIF).attr("font-size",24).text(`(${p.id})`);
});
</script></body></html>
